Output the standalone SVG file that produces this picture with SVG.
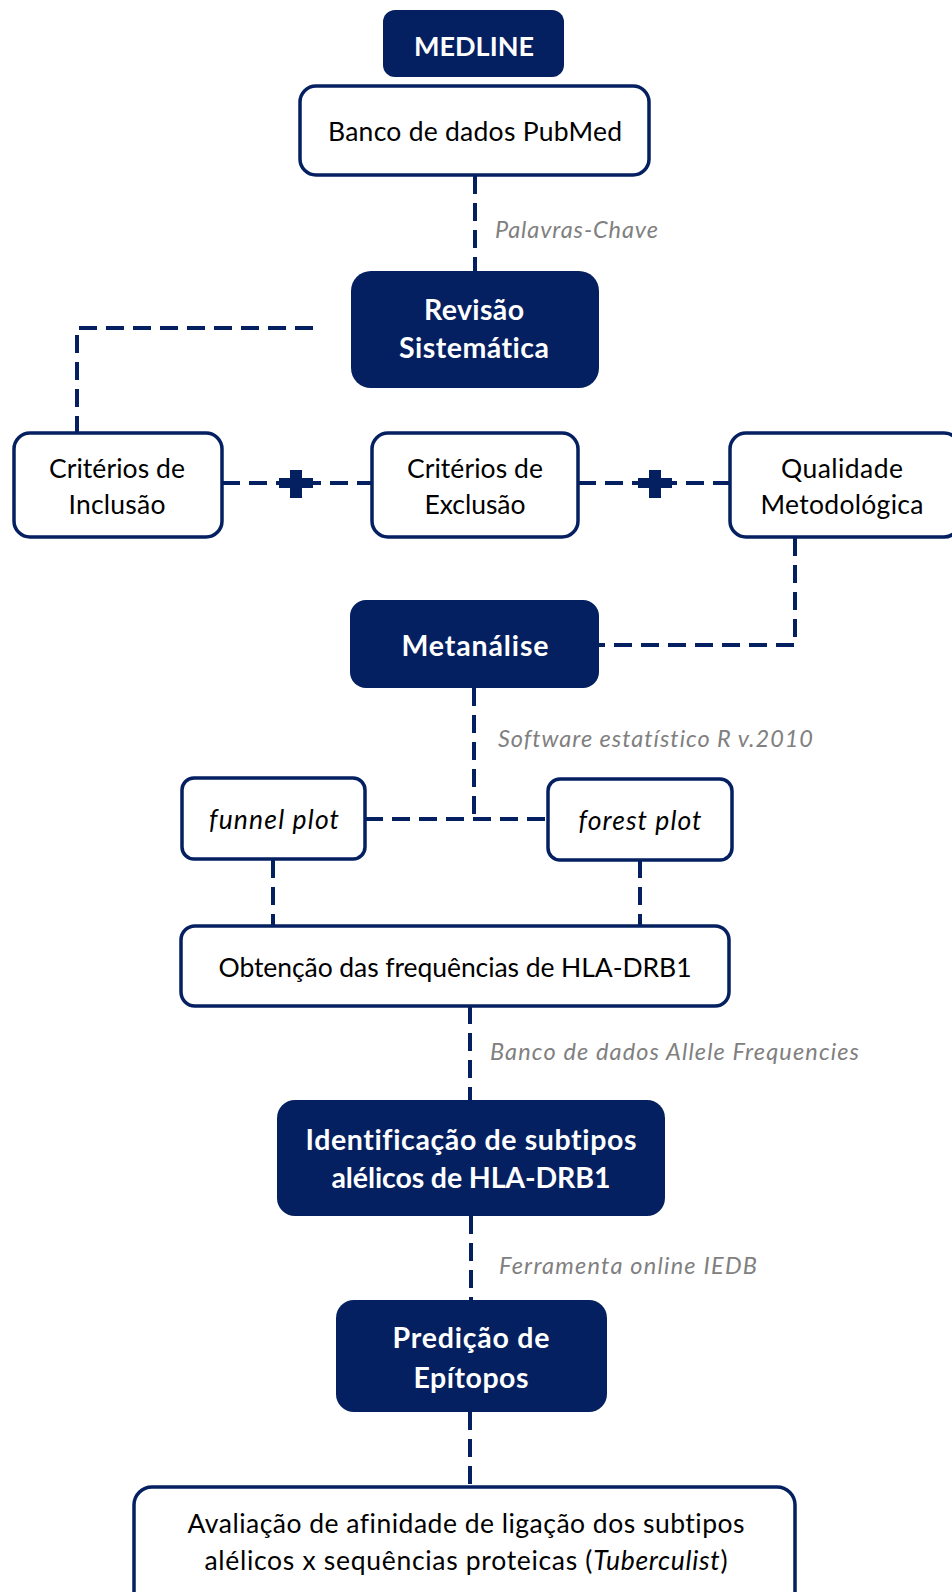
<svg xmlns="http://www.w3.org/2000/svg" width="952" height="1592" viewBox="0 0 952 1592">
  <style>
    .dark { fill: #042060; }
    .light { fill: #ffffff; stroke: #042060; stroke-width: 3.5; }
    text { font-family: Lato, "Open Sans", sans-serif; font-variant-ligatures: no-common-ligatures; }
    .t { font-size: 26.5px; fill: #000000; text-anchor: middle; }
    .tb { font-size: 28.5px; font-weight: bold; fill: #ffffff; text-anchor: middle; }
    .ti { font-style: italic; }
    .lbl { font-size: 23.5px; font-style: italic; fill: #808080; }
    .dash { fill: none; stroke: #042060; stroke-width: 4; stroke-dasharray: 18 9; }
    .plus { fill: #042060; }
  </style>
  <rect width="952" height="1592" fill="#ffffff"/>

  <!-- dashed connectors, plus signs and their side labels -->
  <g id="connectors">
    <line class="dash" x1="475" y1="176" x2="475" y2="271"/>
    <polyline class="dash" points="313,328 77,328 77,433"/>
    <line class="dash" x1="222" y1="483" x2="372" y2="483"/>
    <line class="dash" x1="578" y1="483" x2="730" y2="483"/>
    <polyline class="dash" points="795,538 795,645 599,645"/>
    <polyline class="dash" points="474,688 474,819"/>
    <line class="dash" x1="365" y1="819" x2="548" y2="819"/>
    <line class="dash" x1="273" y1="860" x2="273" y2="926"/>
    <line class="dash" x1="640" y1="860" x2="640" y2="926"/>
    <line class="dash" x1="470" y1="1006" x2="470" y2="1100"/>
    <line class="dash" x1="471" y1="1216" x2="471" y2="1300"/>
    <line class="dash" x1="470" y1="1412" x2="470" y2="1487"/>
    <path class="plus" d="M290,470 h12 v8 h11 v10 h-11 v10 h-12 v-10 h-11 v-10 h11 z"/>
    <path class="plus" d="M649,470 h12 v8 h11 v10 h-11 v10 h-12 v-10 h-11 v-10 h11 z"/>
    <text class="lbl" x="495" y="238" textLength="163">Palavras-Chave</text>
    <text class="lbl" x="498" y="747" textLength="315">Software estatístico R v.2010</text>
    <text class="lbl" x="490" y="1060" textLength="369">Banco de dados Allele Frequencies</text>
    <text class="lbl" x="499" y="1274" textLength="258">Ferramenta online IEDB</text>
  </g>

  <g id="medline">
    <rect class="dark" x="383" y="10" width="181" height="67" rx="12"/>
    <text class="tb" x="474" y="56" style="font-size:27px" textLength="120">MEDLINE</text>
  </g>

  <g id="pubmed">
    <rect class="light" x="300" y="86" width="349" height="89" rx="16"/>
    <text class="t" x="475" y="141" textLength="294">Banco de dados PubMed</text>
  </g>

  <g id="revisao">
    <rect class="dark" x="351" y="271" width="248" height="117" rx="20"/>
    <text class="tb" x="474" y="320" textLength="100">Revisão</text>
    <text class="tb" x="474" y="358" textLength="150">Sistemática</text>
  </g>

  <g id="inclusao">
    <rect class="light" x="14" y="433" width="208" height="104" rx="16"/>
    <text class="t" x="117" y="478" textLength="136">Critérios de</text>
    <text class="t" x="117" y="514" textLength="97">Inclusão</text>
  </g>

  <g id="exclusao">
    <rect class="light" x="372" y="433" width="206" height="104" rx="16"/>
    <text class="t" x="475" y="478" textLength="136">Critérios de</text>
    <text class="t" x="475" y="514" textLength="101">Exclusão</text>
  </g>

  <g id="qualidade">
    <rect class="light" x="730" y="433" width="230" height="104" rx="16"/>
    <text class="t" x="842" y="478" textLength="122">Qualidade</text>
    <text class="t" x="842" y="514" textLength="163">Metodológica</text>
  </g>

  <g id="metanalise">
    <rect class="dark" x="350" y="600" width="249" height="88" rx="16"/>
    <text class="tb" x="475" y="656" textLength="147">Metanálise</text>
  </g>

  <g id="funnel">
    <rect class="light" x="182" y="778" width="183" height="81" rx="12"/>
    <text class="t ti" x="274" y="829" textLength="130">funnel plot</text>
  </g>

  <g id="forest">
    <rect class="light" x="548" y="779" width="184" height="81" rx="12"/>
    <text class="t ti" x="640" y="830" textLength="123">forest plot</text>
  </g>

  <g id="obtencao">
    <rect class="light" x="181" y="926" width="548" height="80" rx="14"/>
    <text class="t" x="455" y="977" textLength="473">Obtenção das frequências de HLA-DRB1</text>
  </g>

  <g id="identificacao">
    <rect class="dark" x="277" y="1100" width="388" height="116" rx="18"/>
    <text class="tb" x="471" y="1150" textLength="331">Identificação de subtipos</text>
    <text class="tb" x="471" y="1188" textLength="279">alélicos de HLA-DRB1</text>
  </g>

  <g id="predicao">
    <rect class="dark" x="336" y="1300" width="271" height="112" rx="18"/>
    <text class="tb" x="471" y="1348" textLength="157">Predição de</text>
    <text class="tb" x="471" y="1388" textLength="115">Epítopos</text>
  </g>

  <g id="avaliacao">
    <rect class="light" x="134" y="1487" width="661" height="130" rx="18"/>
    <text class="t" x="466" y="1533" textLength="557">Avaliação de afinidade de ligação dos subtipos</text>
    <text class="t" x="466" y="1570" textLength="523">alélicos x sequências proteicas (<tspan class="ti">Tuberculist</tspan>)</text>
  </g>
</svg>
